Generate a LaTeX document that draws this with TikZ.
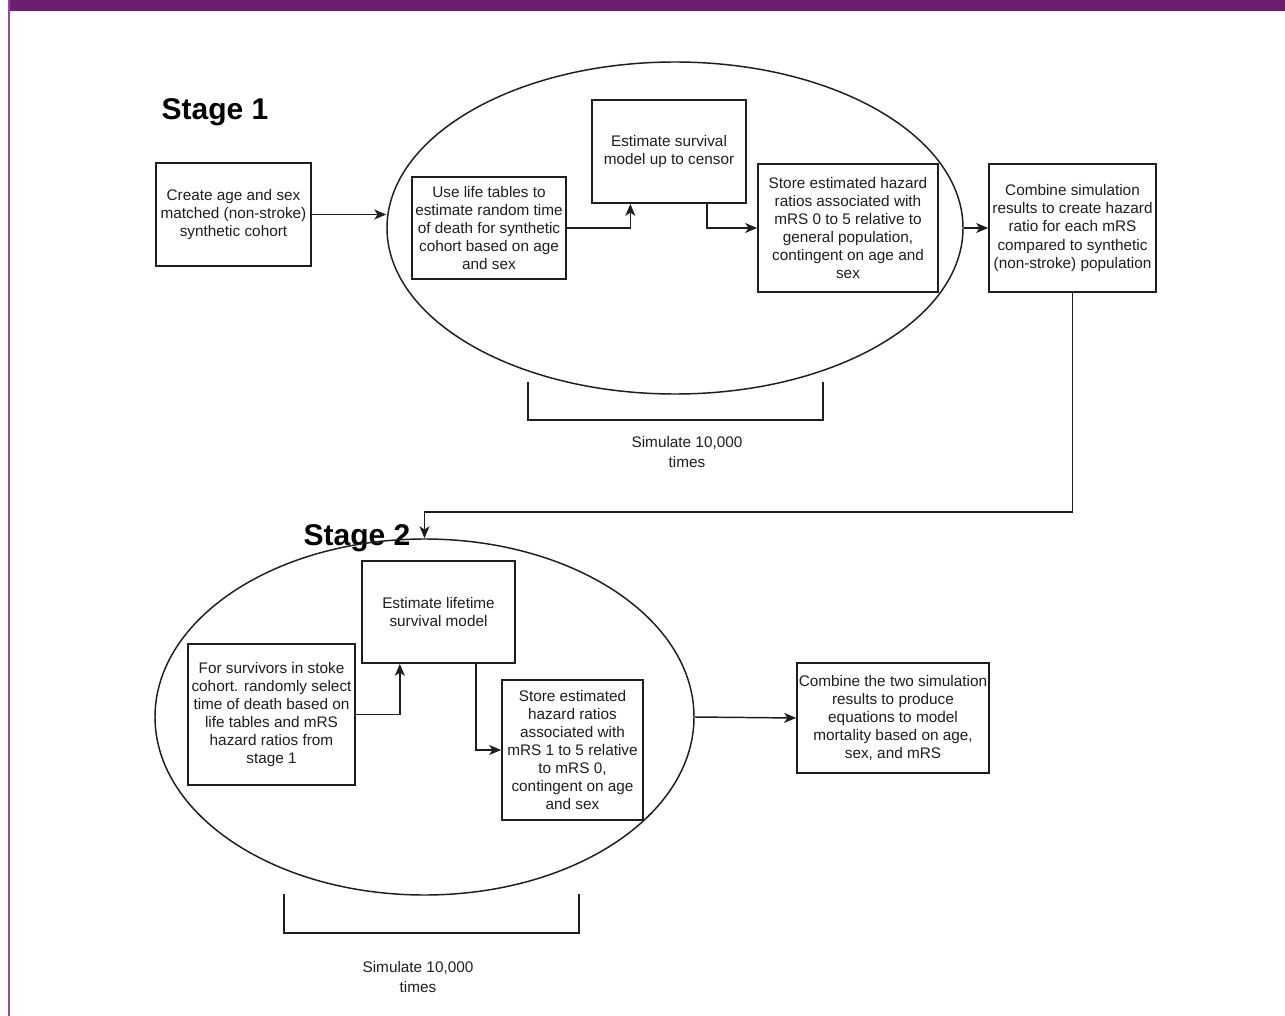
\documentclass[tikz,border=0pt]{standalone}
\usepackage{fontspec}
\setmainfont{Liberation Sans}
\usepackage{tikz}
\usetikzlibrary{arrows.meta,positioning,shapes.geometric}
\definecolor{barpurple}{RGB}{107,31,111}
\definecolor{edgepurple}{RGB}{142,76,155}
\definecolor{ink}{RGB}{30,30,30}

\begin{document}
\begin{tikzpicture}[x=0.75pt,y=-0.75pt,
  box/.style={draw=ink,line width=1.3pt,inner sep=0pt,align=center,text=ink,
    font=\fontsize{11.5}{13.6}\selectfont},
  loop/.style={draw=ink,ellipse,line width=1.1pt,inner sep=0pt},
  ar/.style={-{Stealth[length=9pt,width=7.5pt,inset=2.5pt]},draw=ink,line width=1.1pt},
  bracket/.style={draw=ink,line width=1.1pt},
  note/.style={align=center,text=ink,font=\fontsize{11.5}{14.5}\selectfont},
  stage/.style={text=black,font=\fontsize{22.5}{26}\selectfont\bfseries}
]
\useasboundingbox (0,0) rectangle (1285,1016);
\fill[white] (0,0) rectangle (1285,1016);
\fill[barpurple] (10,0) rectangle (1285,11.5);
\draw[edgepurple,line width=1.5pt] (9,0) -- (9,1016);

% stage 1
\node[stage] (st1) at (215,112) {Stage 1};
\node[loop,minimum width=432pt,minimum height=249pt] (sim1) at (675,228) {};
\node[box,minimum width=116.25pt,minimum height=77.25pt] (cohort) at (233.5,214.5)
  {Create age and sex\\matched (non-stroke)\\synthetic cohort};
\node[box,minimum width=115.5pt,minimum height=76.5pt] (lifetab) at (489,228)
  {Use life tables to\\estimate random time\\of death for synthetic\\cohort based on age\\and sex};
\node[box,minimum width=115.5pt,minimum height=77.25pt] (survest) at (669,151.5)
  {Estimate survival\\model up to censor};
\node[box,minimum width=135pt,minimum height=96pt] (hrstore) at (848,228)
  {Store estimated hazard\\ratios associated with\\mRS 0 to 5 relative to\\general population,\\contingent on age and\\sex};
\node[box,minimum width=125.25pt,minimum height=96pt] (combine) at (1072.5,228)
  {Combine simulation\\results to create hazard\\ratio for each mRS\\compared to synthetic\\(non-stroke) population};
\node[note] (rep1) at (687,452) {Simulate 10,000\\times};

\draw[ar] (cohort.east) -- (cohort.east -| sim1.west);
\draw[ar] (lifetab.east) -| ([xshift=-29pt]survest.south);
\draw[ar] ([xshift=28.5pt]survest.south) |- (hrstore.west);
\draw[ar] (sim1.east) -- (combine.west);
\draw[bracket] (528,382) |- (823,420) -- (823,382);

% stage 2
\node[stage] (st2) at (357,538) {Stage 2};
\node[loop,minimum width=404.25pt,minimum height=267pt] (sim2) at (424.5,717) {};
\node[box,minimum width=125.25pt,minimum height=105.75pt] (survivors) at (271.5,714.5)
  {For survivors in stoke\\cohort. randomly select\\time of death based on\\life tables and mRS\\hazard ratios from\\stage 1};
\node[box,minimum width=114.75pt,minimum height=76.5pt] (lifemod) at (438.5,612)
  {Estimate lifetime\\survival model};
\node[box,minimum width=105.75pt,minimum height=105pt] (hrstoretwo) at (572.5,750)
  {Store estimated\\hazard ratios\\associated with\\mRS 1 to 5 relative\\to mRS 0,\\contingent on age\\and sex};
\node[box,minimum width=144pt,minimum height=82.5pt] (final) at (893,718)
  {Combine the two simulation\\results to produce\\equations to model\\mortality based on age,\\sex, and mRS};
\node[note] (rep2) at (418,977) {Simulate 10,000\\times};

\draw[ar] (combine.south) -- ++(0,219) -| (sim2.north);
\draw[ar] (survivors.east) -| ([xshift=-29pt]lifemod.south);
\draw[ar] ([xshift=28pt]lifemod.south) |- (hrstoretwo.west);
\draw[ar] (sim2.east) -- (final.west);
\draw[bracket] (284,894) |- (579,933) -- (579,894);
\end{tikzpicture}
\end{document}
